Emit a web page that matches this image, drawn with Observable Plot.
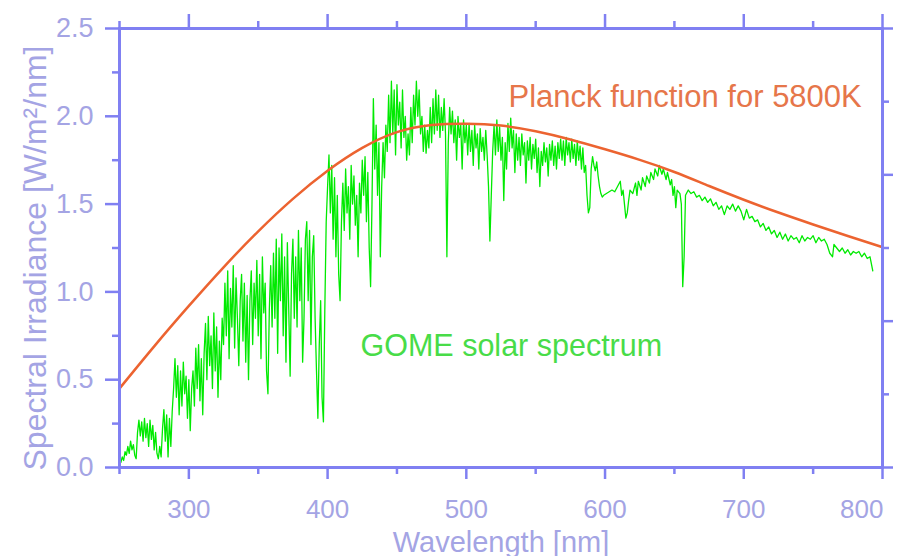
<!DOCTYPE html>
<html><head><meta charset="utf-8">
<script src="https://cdn.jsdelivr.net/npm/d3@7"></script>
<script src="https://cdn.jsdelivr.net/npm/@observablehq/plot@0.6"></script>
<style>body{margin:0;background:#fff;}</style>
</head><body><div id="chart"></div>
<script>
// GOME solar spectrum, 1 nm steps from 251 to 598 nm
const uvStart = 251;
const uvVal = [
 0.03,0.06,0.04,0.09,0.07,0.12,0.08,0.15,0.10,0.13,0.07,0.05,
 0.20,0.27,0.18,0.26,0.15,0.28,0.17,0.25,0.12,0.27,0.16,0.24,0.10,0.20,0.08,0.05,0.12,0.06,
 0.22,0.33,0.15,0.30,0.06,0.28,0.12,0.32,
 0.45,0.62,0.40,0.58,0.30,0.55,0.35,0.60,0.42,0.52,0.28,0.50,0.21,0.45,0.55,0.35,0.68,0.45,0.70,0.38,0.62,0.30,
 0.65,0.82,0.50,0.86,0.58,0.75,0.45,0.88,0.55,0.80,0.40,0.72,0.50,0.85,
 0.70,1.05,0.75,1.12,0.62,1.02,0.80,1.15,0.68,1.08,0.85,0.58,0.95,1.10,0.72,1.05,0.60,0.98,0.50,
 0.95,1.12,0.70,1.05,0.85,1.18,0.75,1.10,0.62,1.20,0.88,1.05,0.55,0.42,0.90,1.15,0.80,
 1.22,0.85,1.30,0.65,1.25,0.95,1.33,0.75,1.20,0.60,1.28,0.90,0.52,1.10,1.30,0.85,1.20,
 0.80,1.35,0.95,1.25,0.60,0.85,1.30,1.40,0.95,1.35,0.70,1.20,1.32,0.85,0.55,0.28,0.70,0.95,0.40,0.26,0.90,1.40,
 1.60,1.78,1.45,1.72,1.30,1.65,1.20,1.55,1.10,0.95,1.40,
 1.62,1.35,1.70,1.45,1.60,1.30,1.72,1.50,1.66,1.38,1.55,1.20,1.62,1.45,1.75,1.55,1.77,1.40,1.68,1.25,1.03,1.50,2.10,1.70,1.95,1.55,1.85,1.20,1.60,1.85,1.65,1.95,
 1.80,2.12,1.85,2.20,1.90,2.15,1.78,2.18,1.95,2.08,1.82,2.15,1.88,2.00,1.75,1.90,1.78,2.05,1.85,2.12,1.95,2.20,2.00,2.15,1.90,2.00,1.80,1.95,1.79,1.92,
 1.82,2.05,1.85,2.10,1.90,2.15,1.92,2.12,1.88,2.05,1.92,2.10,1.90,1.20,1.85,2.05,1.90,2.03,1.85,1.98,1.75,2.00,1.88,1.95,1.70,1.98,1.85,1.95,
 1.78,1.96,1.80,1.92,1.72,1.95,1.82,1.90,1.70,1.93,1.80,1.88,1.75,1.92,1.78,1.60,1.29,1.55,1.80,1.95,1.78,1.98,1.80,1.94,1.75,1.88,1.52,1.85,1.70,1.96,1.80,1.99,1.82,1.92,1.68,1.90,1.75,
 1.88,1.72,1.90,1.78,1.85,1.62,1.86,1.75,1.88,1.70,1.84,1.76,1.87,1.68,1.82,1.60,1.80,1.72,1.85,1.74,1.82,1.66,1.84,1.75,1.86,1.72,1.83,1.70,1.85,
 1.76,1.87,1.75,1.86,1.72,1.88,1.78,1.85,1.74,1.87,1.76,1.84,1.72,1.86,1.75,1.83,1.70,1.82,1.68,1.72,1.55,1.45,1.48,1.70,1.77,1.72,1.69,1.74,1.66,1.60,1.56,1.54
];
// GOME solar spectrum, 599-793 nm
const redNm = [599,601,603,605,607,609,611,612,613,614,615,616,617,618,620,622,623,624,626,627,629,630,632,633,635,636,638,639,641,642,644,645,647,648,649,650,651,652,654,655,656,657,658,660,662,664,666,668,670,672,674,676,678,680,682,684,686,688,690,692,694,696,698,700,702,704,706,708,710,712,714,716,718,720,722,724,726,728,730,732,734,736,738,740,742,744,746,748,750,752,754,756,758,760,762,764,765,767,769,771,773,775,777,779,781,783,785,787,789,791,793];
const redVal = [1.55,1.56,1.57,1.58,1.57,1.60,1.63,1.55,1.58,1.50,1.42,1.45,1.52,1.58,1.56,1.62,1.55,1.63,1.58,1.65,1.60,1.66,1.62,1.68,1.64,1.70,1.66,1.72,1.67,1.70,1.64,1.68,1.61,1.64,1.55,1.60,1.48,1.58,1.56,1.50,1.03,1.20,1.55,1.58,1.56,1.57,1.54,1.55,1.52,1.54,1.51,1.53,1.49,1.51,1.47,1.49,1.44,1.49,1.47,1.50,1.46,1.49,1.46,1.41,1.47,1.42,1.43,1.40,1.41,1.37,1.39,1.35,1.37,1.33,1.35,1.31,1.34,1.30,1.33,1.29,1.32,1.30,1.31,1.28,1.32,1.29,1.31,1.30,1.32,1.28,1.31,1.29,1.30,1.27,1.22,1.20,1.27,1.25,1.23,1.25,1.22,1.24,1.21,1.23,1.22,1.23,1.20,1.22,1.19,1.20,1.12];
// Planck function for 5800K
const planckNm  = [250,275,300,325,350,375,400,425,450,475,500,525,550,575,600,625,650,675,700,725,750,775,800];
const planckVal = [0.45,0.69,0.92,1.14,1.345,1.53,1.69,1.82,1.91,1.95,1.958,1.947,1.915,1.868,1.812,1.752,1.683,1.603,1.525,1.452,1.384,1.318,1.255];
// Tick values
const xMajor = [300,400,500,600,700,800];
const xMinor = [250,350,450,550,650,750];
const xLabels = [300,400,500,600,700];
const xLastLabel = [800];
const yMajor = [0,0.5,1.0,1.5,2.0,2.5];
const yMinor = [0.25,0.75,1.25,1.75,2.25];
const rightMajor = [0,0.8333,1.6667,2.5];
const rightMinor = [0.4167,1.25,2.0833];
// Text
const planckLabel = [{nm: 530.4, v: 2.107, text: "Planck function for 5800K"}];
const gomeLabel = [{nm: 423.7, v: 0.692, text: "GOME solar spectrum"}];
const xTitle = "Wavelength [nm]";
const yTitle = "Spectral Irradiance [W/m²/nm]";

const spectrum = uvVal.map((v, i) => ({nm: uvStart + i, v}))
  .concat(redNm.map((nm, i) => ({nm, v: redVal[i]})));
const planck = planckNm.map((nm, i) => ({nm, v: planckVal[i]}));

const axisBlue = "#8080f2";
const labelColor = "#a4a4e4";
const green = "#00ea00";
const orange = "#ec6330";
const planckText = "#e6764a";
const gomeText = "#48dc48";

const tickAxis = (fn, anchor, ticks, size) =>
  fn({anchor, ticks, tickSize: size, tickFormat: () => "", stroke: axisBlue, strokeWidth: 2.5, label: null});

const chart = Plot.plot({
  width: 904, height: 556,
  marginLeft: 119, marginRight: 22, marginTop: 28, marginBottom: 89,
  style: {fontFamily: "'Liberation Sans', Arial, sans-serif", background: "#fff", overflow: "visible"},
  x: {domain: [250, 800], label: null},
  y: {domain: [0, 2.5], label: null},
  marks: [
    Plot.line(spectrum, {x: "nm", y: "v", stroke: green, strokeWidth: 1.3}),
    Plot.line(planck, {x: "nm", y: "v", stroke: orange, strokeWidth: 2.5, curve: "natural"}),
    Plot.frame({stroke: axisBlue, strokeWidth: 3}),
    tickAxis(Plot.axisY, "left", yMajor, 14),
    tickAxis(Plot.axisY, "left", yMinor, 7),
    tickAxis(Plot.axisY, "right", rightMajor, 10),
    tickAxis(Plot.axisY, "right", rightMinor, 6),
    tickAxis(Plot.axisX, "bottom", xMajor, 12),
    tickAxis(Plot.axisX, "bottom", xMinor, 7),
    tickAxis(Plot.axisX, "top", xMajor, 15),
    tickAxis(Plot.axisX, "top", xMinor, 8),
    Plot.axisY({anchor: "left", ticks: yMajor, tickSize: 0, tickPadding: 26, tickFormat: d => d.toFixed(1), fill: labelColor, color: labelColor, fontSize: 27, label: null}),
    Plot.axisX({anchor: "bottom", ticks: xLabels, tickSize: 0, tickPadding: 32, tickFormat: d => String(d), fill: labelColor, color: labelColor, fontSize: 26, label: null}),
    Plot.axisX({anchor: "bottom", ticks: xLastLabel, tickSize: 0, tickPadding: 32, tickFormat: d => String(d), textAnchor: "end", dx: 1, fill: labelColor, color: labelColor, fontSize: 26, label: null}),
    Plot.text([xTitle], {frameAnchor: "bottom", textAnchor: "middle", text: d => d, dy: 84, fontSize: 29, fill: labelColor}),
    Plot.text([yTitle], {frameAnchor: "left", textAnchor: "middle", text: d => d, rotate: -90, dx: -84, dy: 10, fontSize: 32, fill: labelColor}),
    Plot.text(planckLabel, {x: "nm", y: "v", text: "text", textAnchor: "start", fontSize: 31, fill: planckText}),
    Plot.text(gomeLabel, {x: "nm", y: "v", text: "text", textAnchor: "start", fontSize: 30.5, fill: gomeText})
  ]
});
document.getElementById("chart").append(chart);
</script>
</body></html>
